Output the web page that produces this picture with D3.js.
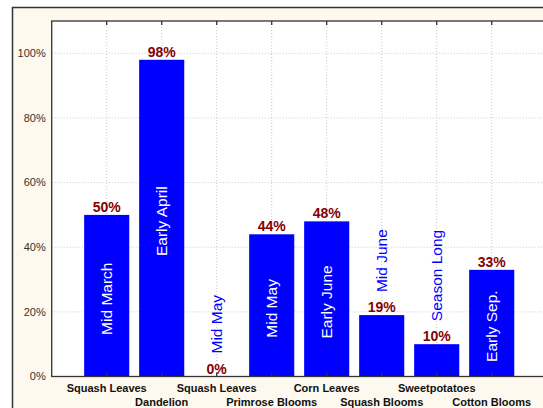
<!DOCTYPE html>
<html lang="en">
  <head>
    <meta charset="UTF-8" />
    <title>Bloom / leaf timing bar chart</title>
    <script src="https://d3js.org/d3.v7.min.js"></script>
    <style>
      body {
        margin: 0;
        background: #fff;
        font-family: "Liberation Sans", Arial, sans-serif;
      }
      svg {
        display: block;
      }
      .grid line {
        stroke: #c8c8c8;
        stroke-width: 1;
        stroke-dasharray: 1, 2;
      }
      .y-tick {
        font-size: 11px;
        fill: #333;
      }
      .cat-label {
        font-size: 11px;
        font-weight: bold;
        fill: #111;
      }
      .pct-label {
        font-size: 14px;
        font-weight: bold;
        fill: #850000;
      }
      .time-label {
        font-size: 15.5px;
      }
    </style>
  </head>
  <body>
    <svg width="543" height="408"></svg>
    <script>
      // Data
      const categories = [
        "Squash Leaves",
        "Dandelion",
        "Squash Leaves",
        "Primrose Blooms",
        "Corn Leaves",
        "Squash Blooms",
        "Sweetpotatoes",
        "Cotton Blooms",
      ];
      const values = [50, 98, 0, 44, 48, 19, 10, 33];
      const timing = [
        "Mid March",
        "Early April",
        "Mid May",
        "Mid May",
        "Early June",
        "Mid June",
        "Season Long",
        "Early Sep.",
      ];
      const yTicks = [0, 20, 40, 60, 80, 100];

      const svg = d3.select("svg");

      // plot box (right edge runs off the picture, like the original)
      const plot = { left: 51.7, top: 21, right: 546.7, bottom: 376.5 };

      // outer cream frame
      svg
        .append("rect")
        .attr("x", 12.5)
        .attr("y", 7.5)
        .attr("width", 560)
        .attr("height", 420)
        .attr("fill", "#fdf9ee")
        .attr("stroke", "#333")
        .attr("stroke-width", 1.5);

      svg
        .append("rect")
        .attr("x", plot.left)
        .attr("y", plot.top)
        .attr("width", plot.right - plot.left)
        .attr("height", plot.bottom - plot.top)
        .attr("fill", "#fff");

      const idx = d3.range(categories.length);

      const x = d3
        .scalePoint()
        .domain(idx)
        .range([plot.left, plot.right])
        .padding(1);

      const y = d3
        .scaleLinear()
        .domain([0, 110])
        .range([plot.bottom, plot.top]);

      const barW = x.step() * 0.82;

      // gridlines
      const grid = svg.append("g").attr("class", "grid");
      grid
        .selectAll(".h")
        .data(yTicks.filter((t) => t > 0))
        .enter()
        .append("line")
        .attr("x1", plot.left)
        .attr("x2", plot.right)
        .attr("y1", (d) => y(d))
        .attr("y2", (d) => y(d));
      grid
        .selectAll(".v")
        .data(idx)
        .enter()
        .append("line")
        .attr("x1", (d) => x(d))
        .attr("x2", (d) => x(d))
        .attr("y1", plot.top)
        .attr("y2", plot.bottom);

      // bars
      svg
        .selectAll(".bar")
        .data(idx)
        .enter()
        .append("rect")
        .attr("class", "bar")
        .attr("fill", "#0000ff")
        .attr("x", (i) => x(i) - barW / 2)
        .attr("width", barW)
        .attr("y", (i) => y(values[i]))
        .attr("height", (i) => y(0) - y(values[i]));

      // percent labels on top of bars
      svg
        .selectAll(".pct-label")
        .data(idx)
        .enter()
        .append("text")
        .attr("class", "pct-label")
        .attr("x", (i) => x(i))
        .attr("y", (i) => y(values[i]) - 3)
        .attr("text-anchor", "middle")
        .text((i) => values[i] + "%");

      // rotated timing text: inside tall bars (white), above short ones (blue)
      const inside = (i) => values[i] >= 30;
      svg
        .selectAll(".time-label")
        .data(idx)
        .enter()
        .append("text")
        .attr("class", "time-label")
        .attr("transform", (i) => {
          const ty = inside(i)
            ? (y(values[i]) + y(0)) / 2 + 3
            : y(values[i]) - 23;
          return `translate(${x(i)},${ty}) rotate(-90)`;
        })
        .attr("text-anchor", (i) => (inside(i) ? "middle" : "start"))
        .attr("dominant-baseline", "central")
        .attr("fill", (i) => (inside(i) ? "#fff" : "#0000ff"))
        .text((i) => timing[i]);

      // plot border
      svg
        .append("rect")
        .attr("x", plot.left)
        .attr("y", plot.top)
        .attr("width", plot.right - plot.left)
        .attr("height", plot.bottom - plot.top)
        .attr("fill", "none")
        .attr("stroke", "#333")
        .attr("stroke-width", 1.3);

      // small inward ticks at top and bottom
      svg
        .append("g")
        .selectAll("line")
        .data(idx.flatMap((i) => [[i, plot.top, 4], [i, plot.bottom, -4]]))
        .enter()
        .append("line")
        .attr("x1", (d) => x(d[0]))
        .attr("x2", (d) => x(d[0]))
        .attr("y1", (d) => d[1])
        .attr("y2", (d) => d[1] + d[2])
        .attr("stroke", "#333")
        .attr("stroke-width", 1.3);

      // y tick labels
      svg
        .selectAll(".y-tick")
        .data(yTicks)
        .enter()
        .append("text")
        .attr("class", "y-tick")
        .attr("x", plot.left - 6)
        .attr("y", (d) => y(d))
        .attr("dy", "0.35em")
        .attr("text-anchor", "end")
        .text((d) => d + "%");

      // category labels, staggered on two rows
      svg
        .selectAll(".cat-label")
        .data(idx)
        .enter()
        .append("text")
        .attr("class", "cat-label")
        .attr("x", (i) => x(i))
        .attr("y", (i) => (i % 2 === 0 ? 392 : 406))
        .attr("text-anchor", "middle")
        .text((i) => categories[i]);
    </script>
  </body>
</html>
